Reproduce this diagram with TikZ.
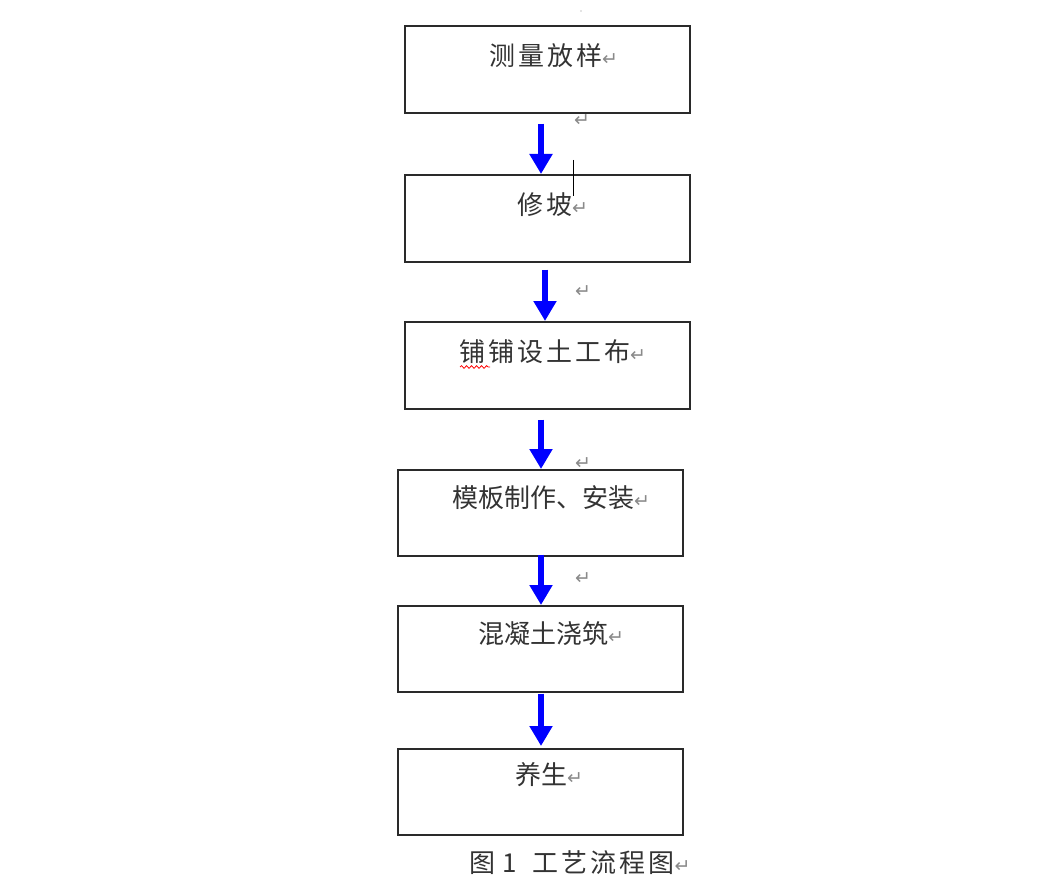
\documentclass[tikz,border=0pt]{standalone}
\usepackage{fontspec}
\newfontfamily\cjk{Noto Sans CJK SC}
\newfontfamily\djv{DejaVu Sans}
\usetikzlibrary{arrows.meta,decorations.pathmorphing}
\definecolor{boxline}{HTML}{2A2A2A}
\definecolor{markgray}{HTML}{8A8A8A}
\definecolor{flowblue}{HTML}{0000FF}
\newcommand{\pmark}{{\djv\fontsize{19}{22}\selectfont\color{markgray}↵}}
\newcommand{\gp}{\hspace{3pt}}
\tikzset{
  stepbox/.style={draw=boxline,line width=1.6pt,minimum width=285pt,minimum height=87pt,anchor=north west,inner sep=0pt},
  lbl/.style={anchor=west,inner sep=0pt,font=\cjk\fontsize{26}{30}\selectfont,text=black!80},
  flow/.style={draw=flowblue,line width=6.5pt,-{Triangle[width=22pt,length=20pt]},shorten <=10pt},
  stray/.style={anchor=center,inner sep=0pt}
}
\begin{document}
\begin{tikzpicture}[x=1pt,y=-1pt]
\useasboundingbox (0,0) rectangle (1041,893);
% boxes
\node[stepbox] (b1) at (404,25) {};
\node[stepbox] (b2) at (404,174) {};
\node[stepbox] (b3) at (404,321) {};
\node[stepbox,minimum height=86pt] (b4) at (397,469) {};
\node[stepbox,minimum height=86pt] (b5) at (397,605) {};
\node[stepbox,minimum height=86pt] (b6) at (397,748) {};
% labels
\node[lbl] (t1) at (489,56) {测\gp 量\gp 放\gp 样\pmark};
\node[lbl] (t2) at (517,205) {修\gp 坡\pmark};
\node[lbl] (t3) at (459,352) {铺\gp 铺\gp 设\gp 土\gp 工\gp 布\pmark};
\node[lbl] (t4) at (452,498) {模板制作、安装\pmark};
\node[lbl] (t5) at (478,634) {混凝土浇筑\pmark};
\node[lbl] (t6) at (515,775) {养生\pmark};
\node[lbl] (cap) at (469,863) {图\hspace{7pt}1\hspace{16pt}工\gp 艺\gp 流\gp 程\gp 图\pmark};
% spelling underline
\draw[red,line width=0.8pt,decorate,decoration={snake,amplitude=1.3pt,segment length=5pt}] (460,367) -- (490,367);
% arrow columns
\coordinate (c1) at (541,0);
\coordinate (c2) at (545,0);
\draw[flow] (b1.south -| c1) -- (b2.north -| c1);
\draw[flow,shorten <=7pt] (b2.south -| c2) -- (b3.north -| c2);
\draw[flow] (b3.south -| c1) -- (b4.north -| c1);
\draw[flow,shorten <=-2pt] (b4.south -| c1) -- (b5.north -| c1);
\draw[flow,shorten <=1pt,shorten >=2pt] (b5.south -| c1) -- (b6.north -| c1);
% stray paragraph marks
\node[stray] (m1) at (582,121) {\pmark};
\node[stray] (m2) at (583,292) {\pmark};
\node[stray] (m3) at (583,464) {\pmark};
\node[stray] (m4) at (583,579) {\pmark};
\node[stray] (m5) at (581,11) {\tikz\fill[markgray] (0,0) circle (0.6pt);};
% text cursor
\coordinate (k1) at (573,160);
\coordinate (k2) at (573,196);
\draw[black,line width=0.8pt] (k1) -- (k2);
\end{tikzpicture}
\end{document}
